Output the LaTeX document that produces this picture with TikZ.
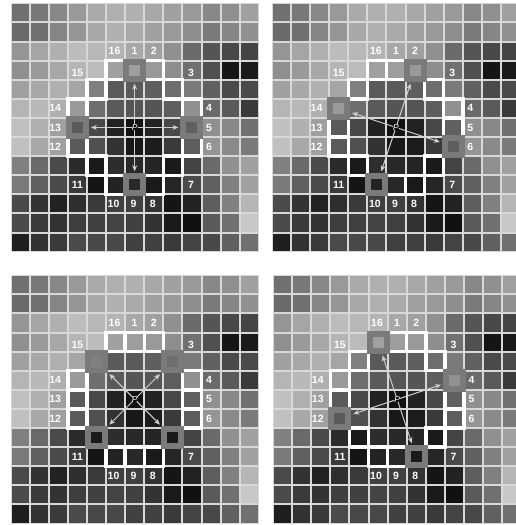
\documentclass[tikz,border=0pt]{standalone}
\usepackage{fontspec}
\setmainfont{Liberation Sans}
\usetikzlibrary{arrows.meta}
\definecolor{gridgray}{HTML}{D8D8D8}
\definecolor{hlgray}{HTML}{7A7A7A}
\definecolor{arrowgray}{HTML}{CFCFCF}
\def\pitch{19.1}
\def\graydata{%
{112,120,136,153,170,176,176,168,160,153,136,143,160},%
{106,112,133,150,168,176,170,160,153,142,122,133,144},%
{149,165,176,188,184,180,168,160,144,106,85,72,68},%
{143,154,168,181,187,160,158,153,142,112,80,21,26},%
{160,168,176,165,128,90,90,95,110,122,96,74,74},%
{181,184,176,154,110,90,85,85,94,144,106,90,58},%
{192,176,160,90,72,34,17,34,72,96,144,136,112},%
{192,168,160,90,80,50,24,28,58,94,149,138,122},%
{128,106,74,42,26,45,40,37,26,68,106,144,160},%
{122,96,74,58,21,35,40,26,38,74,96,128,160},%
{74,51,34,46,58,64,64,51,21,34,94,128,181},%
{74,58,51,62,64,68,64,51,26,17,90,112,200},%
{30,51,58,74,72,72,64,64,58,68,72,96,112}}
\tikzset{
  numlabel/.style={text=white, font=\bfseries\fontsize{10.5}{11}\selectfont, inner sep=0pt},
  plabel/.style={text=white, font=\itshape\fontsize{8.5}{9}\selectfont, inner sep=0pt},
  circbox/.style={draw=white, line width=3.4pt},
  hlbox/.style={draw=hlgray, line width=6pt, minimum size=17pt, inner sep=0pt, outer sep=3pt},
  ptr/.style={draw=arrowgray, line width=1pt, -{Stealth[length=6pt,width=5pt]}, shorten >=2pt, shorten <=3pt},
}
\newcommand\drawgridpanel[4]{%
  \fill[gridgray] (#1,#2) rectangle ++({13*\pitch},{13*\pitch});
  \foreach \rowlist [count=\r from 0] in \graydata {
    \foreach \v [count=\c from 0] in \rowlist {
      \pgfmathsetmacro\pct{\v/2.55}
      \fill[white!\pct!black] ({#1+\c*\pitch+1},{#2+\r*\pitch+1}) rectangle ++({\pitch-2},{\pitch-2});
    }
  }
  \foreach \dx/\dy in {0/-3,1/-3,2/-2,3/-1,3/0,3/1,2/2,1/3,0/3,-1/3,-2/2,-3/1,-3/0,-3/-1,-2/-2,-1/-3}
    \draw[circbox] ({#1+(6+\dx)*\pitch},{#2+(6+\dy)*\pitch}) rectangle ++(\pitch,\pitch);
  \coordinate (pc#3) at ({#1+6.5*\pitch},{#2+6.5*\pitch});
  \foreach \dx/\dy [count=\j] in {#4} {
    \node[hlbox] (h#3\j) at ({#1+(6.5+\dx)*\pitch},{#2+(6.5+\dy)*\pitch}) {};
  }
  \foreach \j in {1,2,3,4} \draw[ptr] (pc#3) -- (h#3\j);
  \foreach \n/\dx/\dy/\sx/\sy in {16/-1/-4/-1/0,1/0/-4/0/0,2/1/-4/0/0,3/3/-3/-1/3,4/4/-1/-2/0,5/4/0/-2/0,6/4/1/-2/0,7/3/3/-1/0,8/1/4/-1/0,9/0/4/-1/0,10/-1/4/-2/0,11/-3/3/0/0,12/-4/1/-3/0,13/-4/0/-3/0,14/-4/-1/-3/0,15/-3/-3/0/3}
    \node[numlabel] (lab#3\n) at ({#1+(6.5+\dx)*\pitch+\sx},{#2+(6.5+\dy)*\pitch+\sy}) {\n};
  \node[plabel] (plab#3) at (pc#3) {P};
}
\begin{document}
\begin{tikzpicture}[x=1pt,y=-1pt]
  \clip (0,0) rectangle (516,525);
  \fill[white] (0,0) rectangle (516,525);
  \drawgridpanel{10.5}{3.3}{a}{0/-3,3/0,0/3,-3/0}
  \drawgridpanel{271.8}{3.3}{b}{1/-3,3/1,-1/3,-3/-1}
  \drawgridpanel{10.5}{275.2}{c}{2/-2,2/2,-2/2,-2/-2}
  \drawgridpanel{273}{275.2}{d}{3/-1,1/3,-3/1,-1/-3}
\end{tikzpicture}
\end{document}
